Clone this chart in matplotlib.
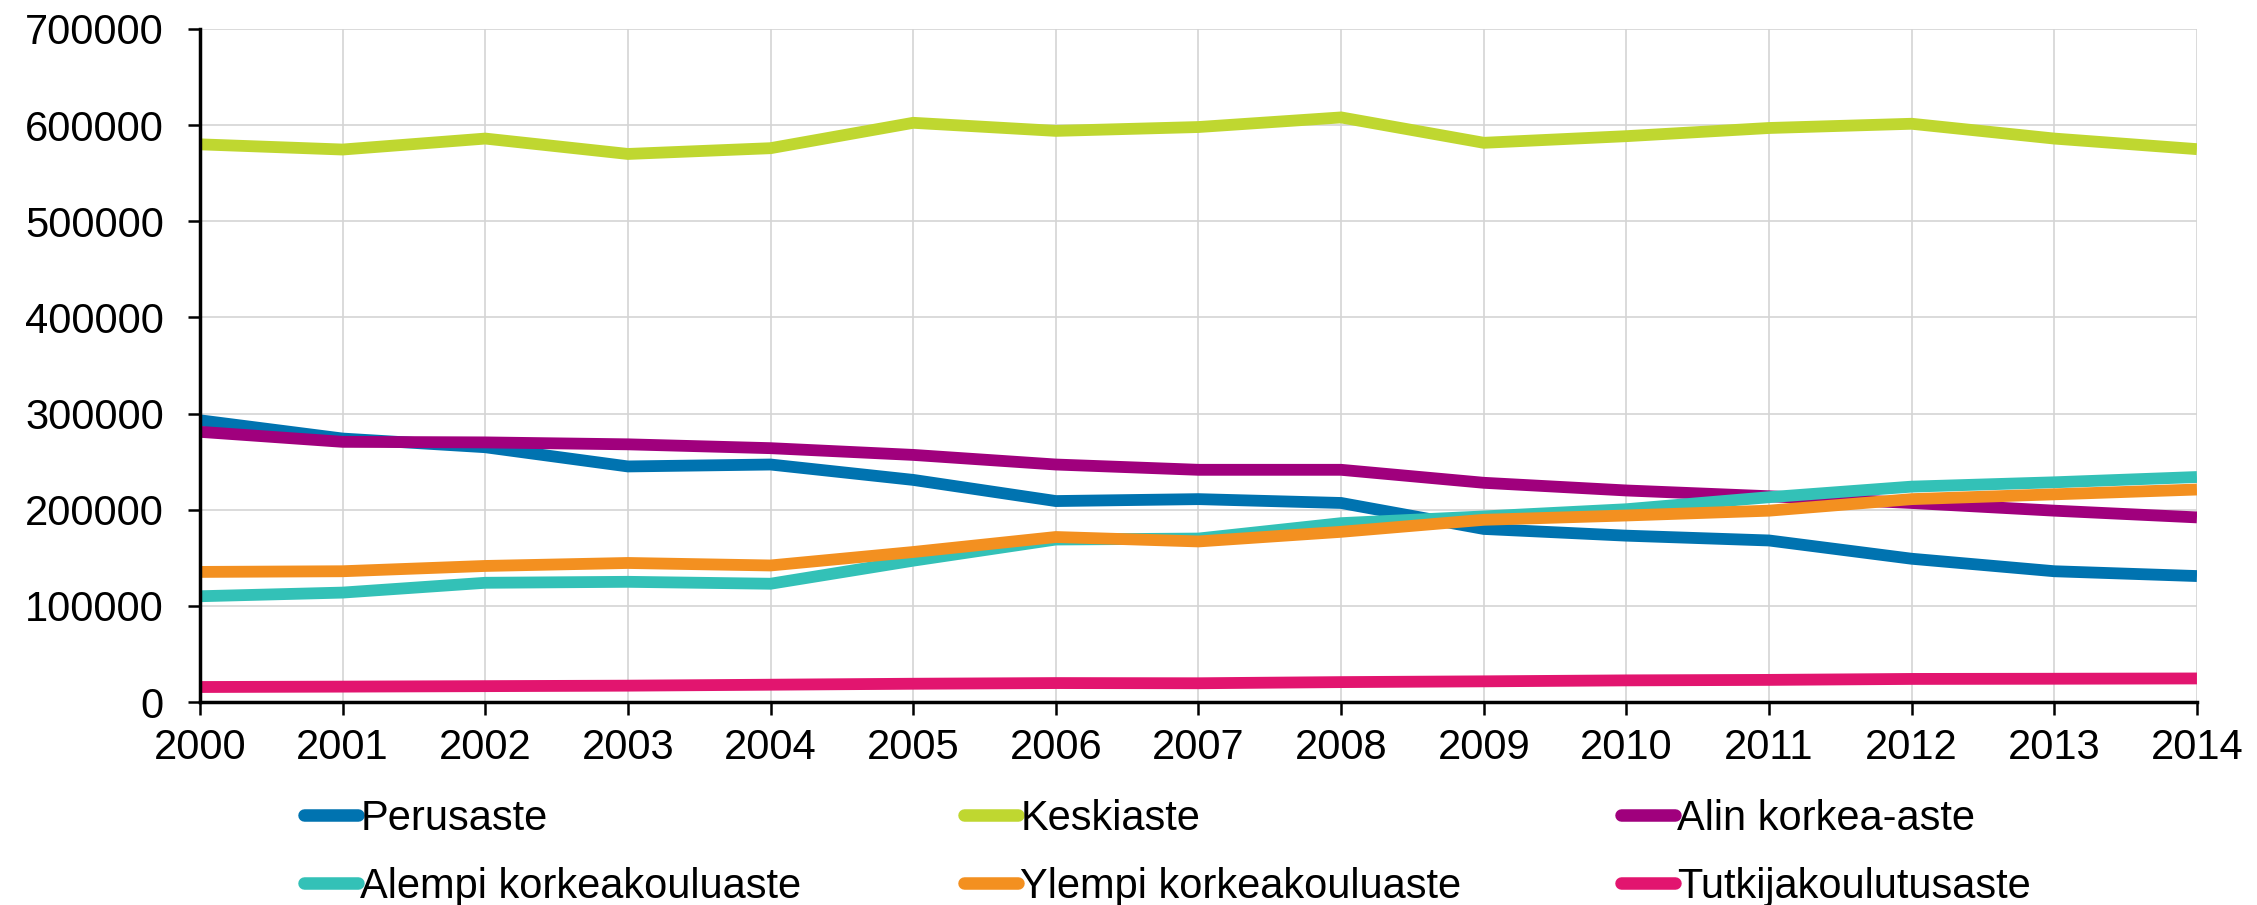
import matplotlib
matplotlib.use("Agg")
import matplotlib.pyplot as plt
from matplotlib.lines import Line2D

plt.rcParams['font.family'] = ['Liberation Sans', 'DejaVu Sans']

years = list(range(2000, 2015))

perusaste = [293000, 274000, 265000, 245000, 247000, 231000, 209000, 211000,
             207000, 180000, 173000, 168000, 149000, 136000, 131000]
keskiaste = [580000, 574600, 586000, 570000, 576000, 602400, 594000, 598000,
             608000, 581600, 588500, 597000, 601400, 586000, 575000]
alin_korkea = [281000, 270600, 270000, 268000, 264000, 257000, 247000, 241500,
               241500, 228000, 220000, 214000, 207000, 199000, 192000]
alempi_kk = [110000, 113800, 124000, 125000, 123000, 147000, 169000, 170000,
             186000, 193000, 200500, 213000, 224000, 228500, 234000]
ylempi_kk = [135300, 136000, 141500, 144600, 142000, 156000, 171600, 167000,
             177000, 189500, 194000, 199000, 211000, 216000, 221000]
tutkija = [15600, 16000, 16500, 17000, 18000, 19000, 19700, 19500,
           20700, 21500, 22500, 23000, 24000, 24200, 24500]

labels = ['Perusaste', 'Keskiaste', 'Alin korkea-aste',
          'Alempi korkeakouluaste', 'Ylempi korkeakouluaste', 'Tutkijakoulutusaste']
colors = ['#0073B0', '#BFD730', '#A0007D', '#33C1B7', '#F39020', '#E2156F']
series = [perusaste, keskiaste, alin_korkea, alempi_kk, ylempi_kk, tutkija]

fig = plt.figure(figsize=(22.57, 9.05), dpi=100)
ax = fig.add_axes([0.0886, 0.2243, 0.8848, 0.7437])

for vals, col, lab in zip(series, colors, labels):
    ax.plot(years, vals, color=col, lw=8.5, label=lab, solid_joinstyle='miter',
            solid_capstyle='butt')

ax.set_xlim(2000, 2014)
ax.set_ylim(0, 700000)
ax.set_xticks(years)
ax.set_yticks(range(0, 700001, 100000))
ax.grid(True, color='#d4d4d4', lw=1.2)
ax.set_axisbelow(True)
for s in ['top', 'right']:
    ax.spines[s].set_visible(False)
for s in ['left', 'bottom']:
    ax.spines[s].set_linewidth(2.5)
ax.tick_params(axis='both', labelsize=30, length=9, width=1.8)
ax.tick_params(axis='y', pad=17)
ax.tick_params(axis='x', pad=10)

# legend: three columns of two entries each
col_x = [0.1347, 0.4271, 0.7182]
for i, x in enumerate(col_x):
    idx = [i, i + 3]
    handles = [Line2D([0], [0], color=colors[j], lw=9, solid_capstyle='round') for j in idx]
    fig.legend(handles, [labels[j] for j in idx], loc='upper left',
               bbox_to_anchor=(x, 0.1171), frameon=False, fontsize=30,
               handlelength=1.3, handletextpad=0.05, labelspacing=0.67,
               borderaxespad=0, borderpad=0)

fig.savefig('out.png', dpi=100)
